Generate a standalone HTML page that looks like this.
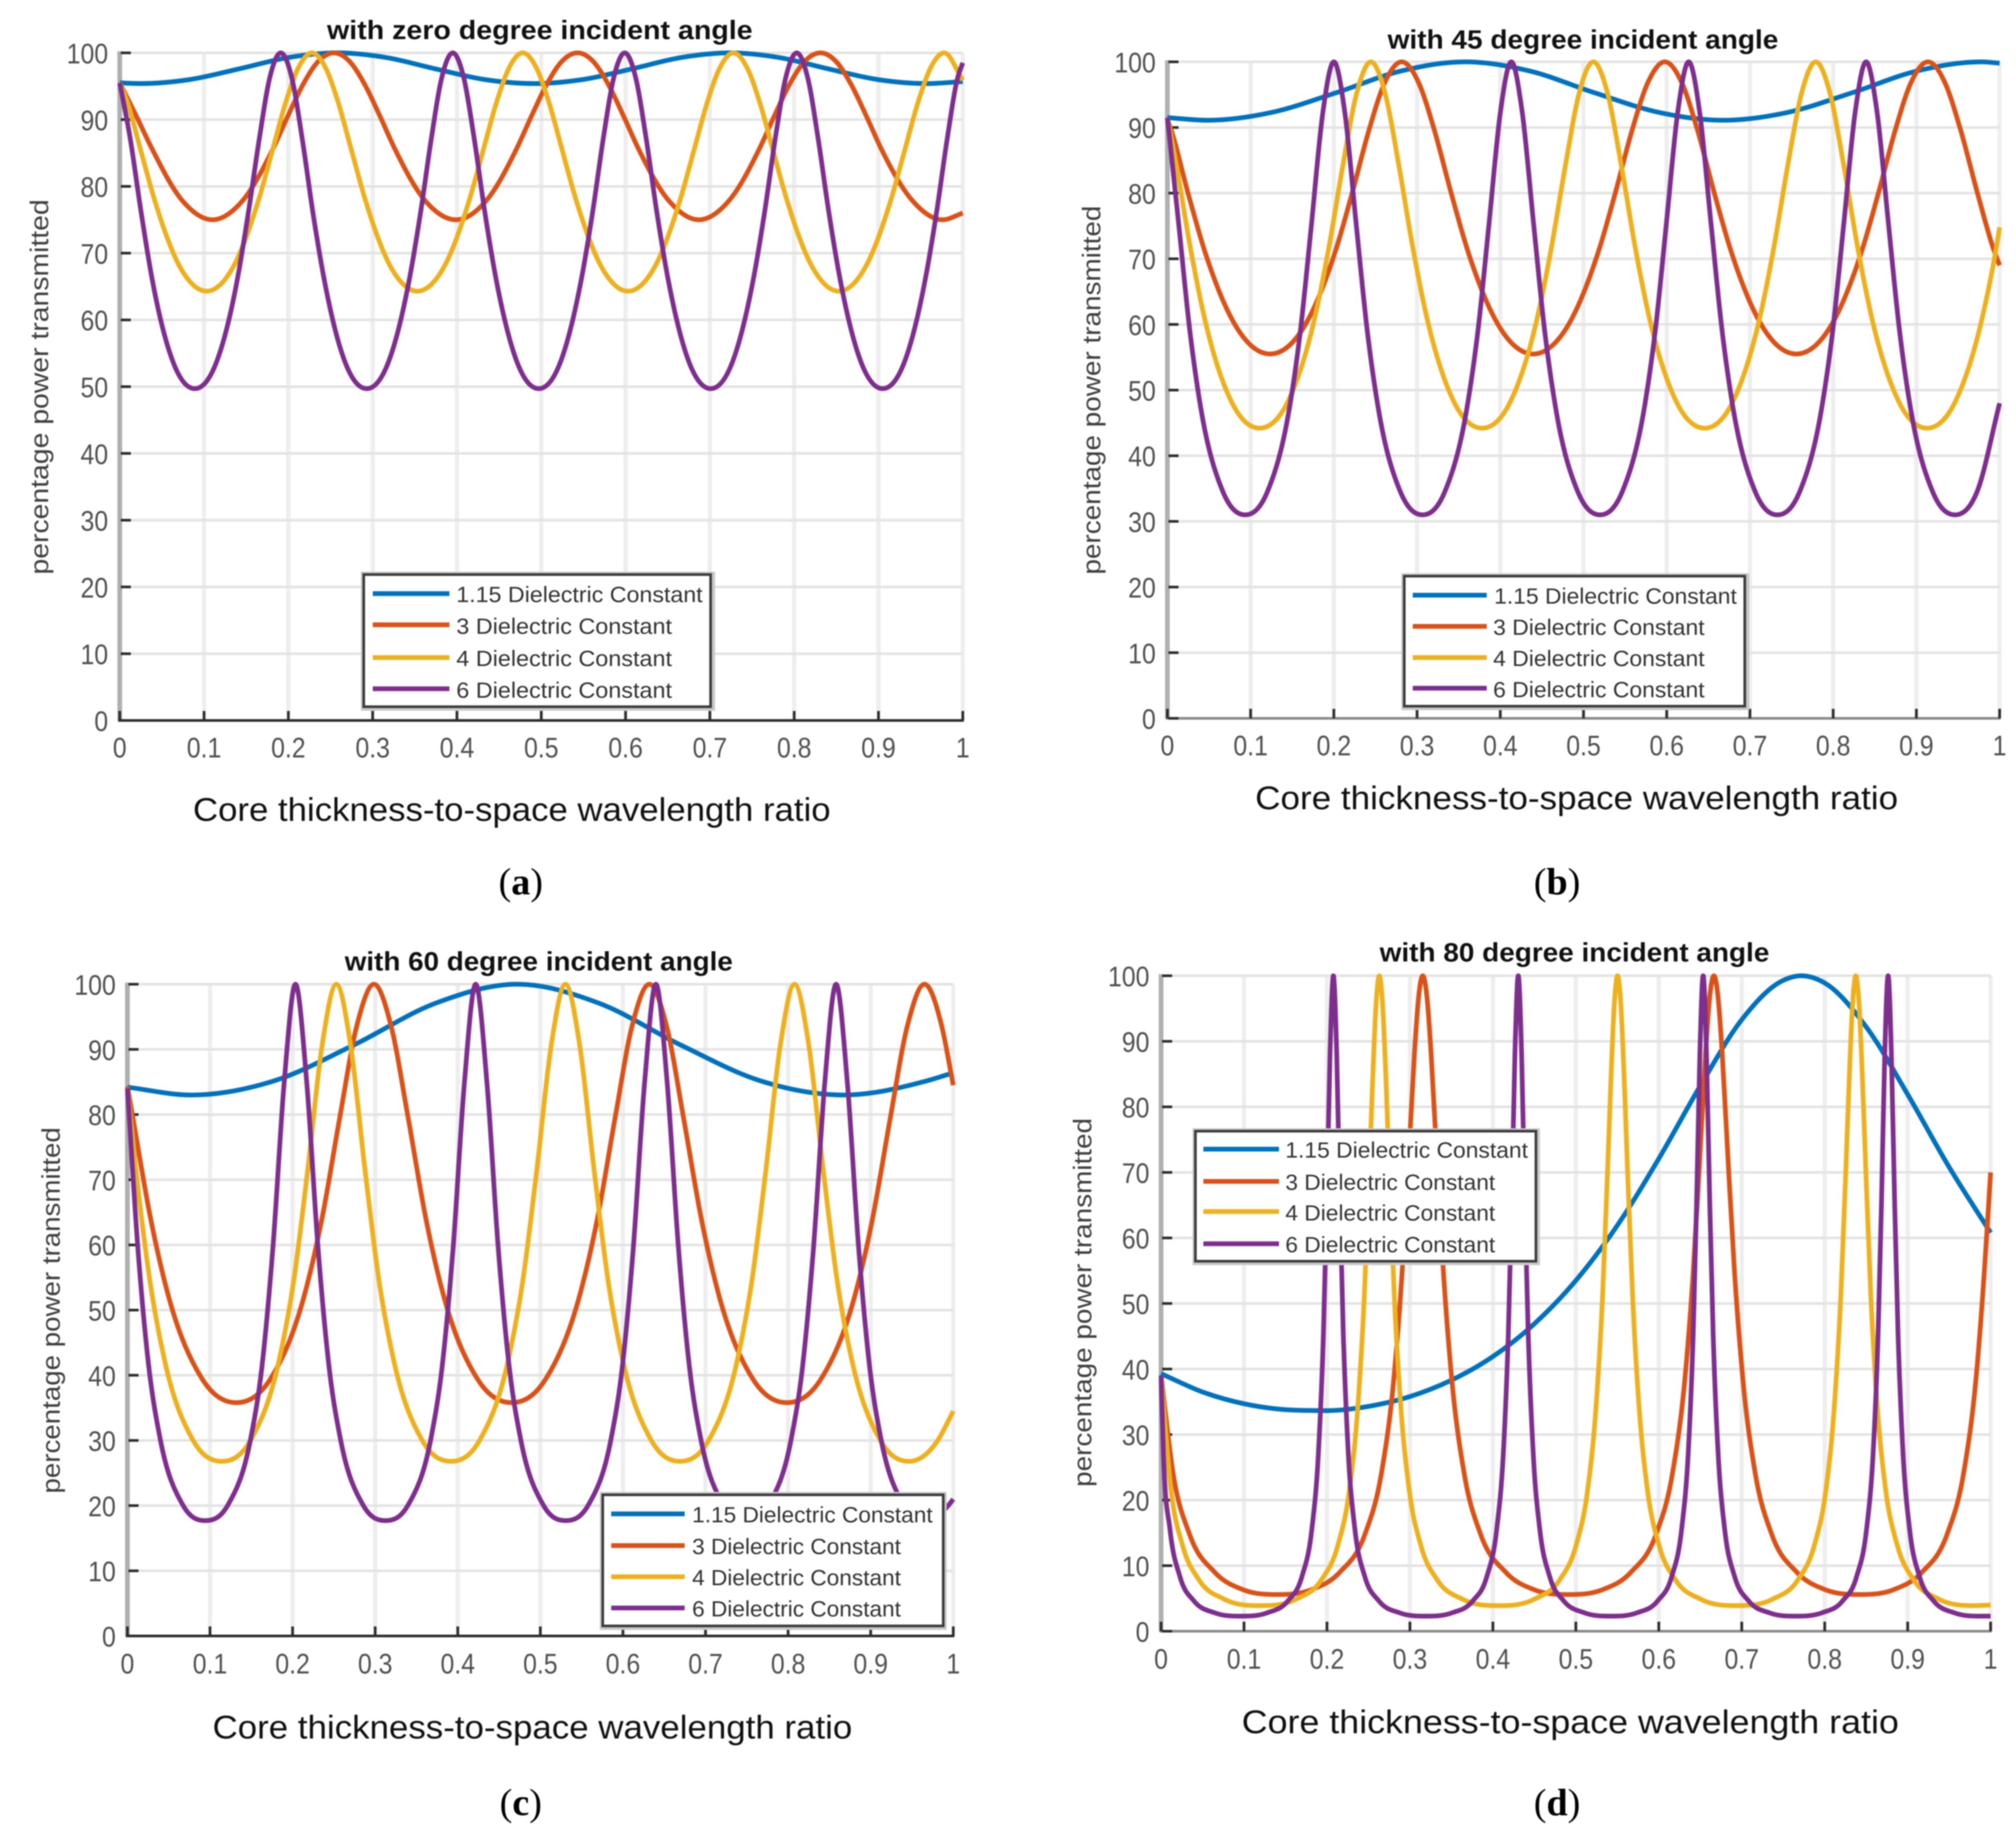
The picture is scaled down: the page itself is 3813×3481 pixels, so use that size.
<!DOCTYPE html>
<html lang="en">
<head>
<meta charset="utf-8">
<title>Power transmitted versus core thickness at four incident angles</title>
<style>
html,body{margin:0;padding:0;background:#fff;}
svg{display:block;filter:blur(1px);}
text{font-family:"Liberation Sans",sans-serif;}
.title{font-size:50px;font-weight:bold;fill:#111;text-anchor:middle;}
.ylab{font-size:48px;fill:#404040;text-anchor:middle;}
.xlab{font-size:62px;fill:#111;text-anchor:middle;}
.cap{font-family:"Liberation Serif",serif;font-size:72px;fill:#000;text-anchor:middle;}
.leg{font-size:42px;fill:#333;}
.tick{font-size:47px;fill:#505050;}
.lbox{fill:#fff;stroke:#3c3c3c;stroke-width:5;}
.lshadow{fill:none;stroke:#c8c8c8;stroke-width:11;}
</style>
</head>
<body>
<svg id="figure" xmlns="http://www.w3.org/2000/svg" width="3813" height="3481" viewBox="0 0 3813 3481">
<rect width="3813" height="3481" fill="#fff"/>

<g>
  <g id="marks-a"></g>
  <text class="title" x="1021" y="74" textLength="805" lengthAdjust="spacingAndGlyphs">with zero degree incident angle</text>
  <text class="ylab" transform="translate(91 732) rotate(-90)" textLength="710" lengthAdjust="spacingAndGlyphs">percentage power transmitted</text>
  <text class="xlab" x="968" y="1553" textLength="1206" lengthAdjust="spacingAndGlyphs">Core thickness-to-space wavelength ratio</text>
  <text class="cap" x="985" y="1692">(<tspan font-weight="bold">a</tspan>)</text>
  <g>
    <rect class="lshadow" x="688" y="1087" width="659" height="252"/>
    <rect class="lbox" x="688" y="1087" width="656" height="250"/>
    <line x1="705" x2="850" y1="1123" y2="1123" stroke="#0072BD" stroke-width="9"/>
    <text class="leg" x="863" y="1139" textLength="466" lengthAdjust="spacingAndGlyphs">1.15 Dielectric Constant</text>
    <line x1="705" x2="850" y1="1182" y2="1182" stroke="#D95319" stroke-width="9"/>
    <text class="leg" x="863" y="1199" textLength="408" lengthAdjust="spacingAndGlyphs">3 Dielectric Constant</text>
    <line x1="705" x2="850" y1="1244" y2="1244" stroke="#EDB120" stroke-width="9"/>
    <text class="leg" x="863" y="1260" textLength="408" lengthAdjust="spacingAndGlyphs">4 Dielectric Constant</text>
    <line x1="705" x2="850" y1="1303" y2="1303" stroke="#7E2F8E" stroke-width="9"/>
    <text class="leg" x="863" y="1320" textLength="408" lengthAdjust="spacingAndGlyphs">6 Dielectric Constant</text>
  </g>
</g>

<g>
  <g id="marks-b"></g>
  <text class="title" x="2994" y="92" textLength="739" lengthAdjust="spacingAndGlyphs">with 45 degree incident angle</text>
  <text class="ylab" transform="translate(2081 738) rotate(-90)" textLength="698" lengthAdjust="spacingAndGlyphs">percentage power transmitted</text>
  <text class="xlab" x="2982" y="1531" textLength="1216" lengthAdjust="spacingAndGlyphs">Core thickness-to-space wavelength ratio</text>
  <text class="cap" x="2945" y="1692">(<tspan font-weight="bold">b</tspan>)</text>
  <g>
    <rect class="lshadow" x="2656" y="1090" width="647" height="248"/>
    <rect class="lbox" x="2656" y="1090" width="644" height="246"/>
    <line x1="2672" x2="2812" y1="1126" y2="1126" stroke="#0072BD" stroke-width="9"/>
    <text class="leg" x="2826" y="1142" textLength="459" lengthAdjust="spacingAndGlyphs">1.15 Dielectric Constant</text>
    <line x1="2672" x2="2812" y1="1185" y2="1185" stroke="#D95319" stroke-width="9"/>
    <text class="leg" x="2824" y="1201" textLength="400" lengthAdjust="spacingAndGlyphs">3 Dielectric Constant</text>
    <line x1="2672" x2="2812" y1="1244" y2="1244" stroke="#EDB120" stroke-width="9"/>
    <text class="leg" x="2824" y="1260" textLength="400" lengthAdjust="spacingAndGlyphs">4 Dielectric Constant</text>
    <line x1="2672" x2="2812" y1="1302" y2="1302" stroke="#7E2F8E" stroke-width="9"/>
    <text class="leg" x="2824" y="1319" textLength="400" lengthAdjust="spacingAndGlyphs">6 Dielectric Constant</text>
  </g>
</g>

<g>
  <g id="marks-c"></g>
  <text class="title" x="1019" y="1836" textLength="734" lengthAdjust="spacingAndGlyphs">with 60 degree incident angle</text>
  <text class="ylab" transform="translate(113 2479) rotate(-90)" textLength="693" lengthAdjust="spacingAndGlyphs">percentage power transmitted</text>
  <text class="xlab" x="1007" y="3289" textLength="1210" lengthAdjust="spacingAndGlyphs">Core thickness-to-space wavelength ratio</text>
  <text class="cap" x="985" y="3434">(<tspan font-weight="bold">c</tspan>)</text>
  <g>
    <rect class="lshadow" x="1140" y="2828" width="645" height="250"/>
    <rect class="lbox" x="1140" y="2828" width="644" height="248"/>
    <line x1="1156" x2="1295" y1="2864" y2="2864" stroke="#0072BD" stroke-width="9"/>
    <text class="leg" x="1309" y="2880" textLength="455" lengthAdjust="spacingAndGlyphs">1.15 Dielectric Constant</text>
    <line x1="1156" x2="1295" y1="2924" y2="2924" stroke="#D95319" stroke-width="9"/>
    <text class="leg" x="1309" y="2940" textLength="395" lengthAdjust="spacingAndGlyphs">3 Dielectric Constant</text>
    <line x1="1156" x2="1295" y1="2983" y2="2983" stroke="#EDB120" stroke-width="9"/>
    <text class="leg" x="1309" y="2999" textLength="395" lengthAdjust="spacingAndGlyphs">4 Dielectric Constant</text>
    <line x1="1156" x2="1295" y1="3042" y2="3042" stroke="#7E2F8E" stroke-width="9"/>
    <text class="leg" x="1309" y="3058" textLength="395" lengthAdjust="spacingAndGlyphs">6 Dielectric Constant</text>
  </g>
</g>

<g>
  <g id="marks-d"></g>
  <text class="title" x="2978" y="1819" textLength="737" lengthAdjust="spacingAndGlyphs">with 80 degree incident angle</text>
  <text class="ylab" transform="translate(2064 2464) rotate(-90)" textLength="698" lengthAdjust="spacingAndGlyphs">percentage power transmitted</text>
  <text class="xlab" x="2970" y="3279" textLength="1243" lengthAdjust="spacingAndGlyphs">Core thickness-to-space wavelength ratio</text>
  <text class="cap" x="2945" y="3434">(<tspan font-weight="bold">d</tspan>)</text>
  <g>
    <rect class="lshadow" x="2261" y="2140" width="646" height="248"/>
    <rect class="lbox" x="2261" y="2140" width="644" height="246"/>
    <line x1="2276" x2="2419" y1="2174" y2="2174" stroke="#0072BD" stroke-width="9"/>
    <text class="leg" x="2431" y="2190" textLength="459" lengthAdjust="spacingAndGlyphs">1.15 Dielectric Constant</text>
    <line x1="2276" x2="2419" y1="2235" y2="2235" stroke="#D95319" stroke-width="9"/>
    <text class="leg" x="2431" y="2251" textLength="397" lengthAdjust="spacingAndGlyphs">3 Dielectric Constant</text>
    <line x1="2276" x2="2419" y1="2292" y2="2292" stroke="#EDB120" stroke-width="9"/>
    <text class="leg" x="2431" y="2309" textLength="397" lengthAdjust="spacingAndGlyphs">4 Dielectric Constant</text>
    <line x1="2276" x2="2419" y1="2353" y2="2353" stroke="#7E2F8E" stroke-width="9"/>
    <text class="leg" x="2431" y="2369" textLength="397" lengthAdjust="spacingAndGlyphs">6 Dielectric Constant</text>
  </g>
</g>
</svg>

<script>
// ---- shared tick values ----
const xTicks = [0,0.1,0.2,0.3,0.4,0.5,0.6,0.7,0.8,0.9,1];
const xTickLabels = ['0','0.1','0.2','0.3','0.4','0.5','0.6','0.7','0.8','0.9','1'];
const yTicks = [0,10,20,30,40,50,60,70,80,90,100];
const yTickLabels = ['0','10','20','30','40','50','60','70','80','90','100'];

// ---- panel a: zero degree ----
const aBlueX = [0,.025,.083,.1415,.2,.258,.316,.3745,.433,.491,.549,.6075,.666,.724,.782,.8405,.899,.957,1];
const aBlueY = [95.5,95.4,96,97.6,99.3,100,99.3,97.6,96,95.4,96,97.6,99.3,100,99.3,97.6,96,95.4,95.7];
const aOrangeX = [0,.019,.038,.074,.11,
 .146,.182,.2,.218,.236,.254,
 .272,.29,.308,.326,.362,.399,
 .435,.471,.489,.507,.525,.543,
 .561,.579,.597,.615,.651,.687,
 .723,.759,.777,.795,.813,.831,
 .849,.867,.885,.903,.94,.976,
 1];
const aOrangeY = [95.5,90.7,85.7,77.9,75,
 77.9,85.7,90.7,95.4,98.8,100,
 98.8,95.4,90.7,85.7,77.9,75,
 77.9,85.7,90.7,95.4,98.8,100,
 98.8,95.4,90.7,85.7,77.9,75,
 77.9,85.7,90.7,95.4,98.8,100,
 98.8,95.4,90.7,85.7,77.9,75,
 76];
const aYellowX = [0,.0093,.0249,.0405,.072,.103,
 .134,.1655,.1811,.1967,.2124,.228,
 .2436,.2593,.2749,.2905,.322,.353,
 .384,.4155,.4311,.4467,.4624,.478,
 .4936,.5093,.5249,.5405,.572,.603,
 .634,.6655,.6811,.6967,.7124,.728,
 .7436,.7593,.7749,.7905,.822,.853,
 .884,.9155,.9311,.9467,.9624,.978,
 1];
const aYellowY = [95.5,92.5,85.4,78.3,67.8,64.3,
 67.8,78.3,85.4,92.5,97.9,100,
 97.9,92.5,85.4,78.3,67.8,64.3,
 67.8,78.3,85.4,92.5,97.9,100,
 97.9,92.5,85.4,78.3,67.8,64.3,
 67.8,78.3,85.4,92.5,97.9,100,
 97.9,92.5,85.4,78.3,67.8,64.3,
 67.8,78.3,85.4,92.5,97.9,100,
 95.9];
const aPurpleX = [0,.0125,.0253,.038,.0635,.089,
 .1145,.14,.1527,.1655,.178,.191,
 .204,.2165,.229,.242,.2675,.293,
 .3185,.344,.357,.3695,.382,.395,
 .408,.4205,.433,.446,.4715,.497,
 .5225,.548,.561,.5735,.586,.599,
 .612,.6245,.637,.65,.6755,.701,
 .7265,.752,.765,.7775,.79,.803,
 .816,.8285,.841,.854,.8795,.905,
 .9305,.956,.969,.9815,.994,1];
const aPurpleY = [95.5,87.1,76.2,66.4,53.6,49.7,
 53.6,66.4,76.2,87.1,96.3,100,
 96.3,87.1,76.2,66.4,53.6,49.7,
 53.6,66.4,76.2,87.1,96.3,100,
 96.3,87.1,76.2,66.4,53.6,49.7,
 53.6,66.4,76.2,87.1,96.3,100,
 96.3,87.1,76.2,66.4,53.6,49.7,
 53.6,66.4,76.2,87.1,96.3,100,
 96.3,87.1,76.2,66.4,53.6,49.7,
 53.6,66.4,76.2,87.1,96.3,98.5];

// ---- panel b: 45 degree ----
const bBlueX = [0,.048,.1255,.203,.2805,.358,.4355,.513,.5905,.668,.7455,.823,.9005,.978,1];
const bBlueY = [91.5,91.1,92.3,95.3,98.6,100,98.6,95.3,92.3,91.1,92.3,95.3,98.6,100,99.8];
const bOrangeX = [0,.0048,.0246,.0443,.0839,.1234,
 .163,.2025,.2222,.242,.2617,.2815,
 .3013,.321,.3408,.3605,.4001,.4396,
 .4792,.5187,.5384,.5582,.5779,.5977,
 .6175,.6372,.657,.6767,.7163,.7558,
 .7954,.8349,.8546,.8744,.8941,.9139,
 .9337,.9534,.9732,.9929,1];
const bOrangeY = [91.2,89.5,80.1,71.4,59.4,55.5,
 59.4,71.4,80.1,89.5,97,100,
 97,89.5,80.1,71.4,59.4,55.5,
 59.4,71.4,80.1,89.5,97,100,
 97,89.5,80.1,71.4,59.4,55.5,
 59.4,71.4,80.1,89.5,97,100,
 97,89.5,80.1,71.4,69];
const bYellowX = [0,.0106,.0273,.044,.0775,.1108,
 .1442,.1776,.1943,.2111,.2278,.2445,
 .2612,.2779,.2946,.3113,.3448,.3782,
 .4116,.445,.4617,.4785,.4951,.5118,
 .5285,.5452,.5619,.5786,.6121,.6455,
 .6789,.7123,.729,.7457,.7624,.7791,
 .7958,.8125,.8292,.8459,.8794,.9128,
 .9462,.9796,.9963,1];
const bYellowY = [91.5,84.4,71.9,61.3,48.1,44.2,
 48.1,61.3,71.9,84.4,95.4,100,
 95.4,84.4,71.9,61.3,48.1,44.2,
 48.1,61.3,71.9,84.4,95.4,100,
 95.4,84.4,71.9,61.3,48.1,44.2,
 48.1,61.3,71.9,84.4,95.4,100,
 95.4,84.4,71.9,61.3,48.1,44.2,
 48.1,61.3,71.9,74.8];
const bPurpleX = [0,.0134,.0268,.0401,.0668,.0934,
 .1201,.1467,.16,.1733,.1867,.2,
 .2133,.2267,.24,.2533,.28,.3066,
 .3333,.36,.3733,.3866,.4,.4132,
 .4265,.4399,.4532,.4665,.4932,.5198,
 .5465,.5731,.5864,.5997,.6131,.6264,
 .6397,.6531,.6664,.6797,.7064,.733,
 .7597,.7863,.7996,.8129,.8263,.8396,
 .8529,.8663,.8796,.8929,.9196,.9462,
 .9729,1];
const bPurpleY = [91.5,75.5,59.2,47.3,34.5,31,
 34.5,47.3,59.2,75.5,92.2,100,
 92.2,75.5,59.2,47.3,34.5,31,
 34.5,47.3,59.2,75.5,92.2,100,
 92.2,75.5,59.2,47.3,34.5,31,
 34.5,47.3,59.2,75.5,92.2,100,
 92.2,75.5,59.2,47.3,34.5,31,
 34.5,47.3,59.2,75.5,92.2,100,
 92.2,75.5,59.2,47.3,34.5,31,
 34.5,48];

// ---- panel c: 60 degree ----
const cBlueX = [0,.077,.1758,.2745,.3733,.472,.5708,.6695,.7683,.867,.9658,1];
const cBlueY = [84.2,83,85.1,90.7,97.1,100,97.1,90.7,85.1,83,85.1,86.4];
const cOrangeX = [0,.0069,.0277,.0485,.0902,.1318,
 .1735,.2152,.236,.2568,.2777,.2985,
 .3193,.3402,.361,.3818,.4235,.4652,
 .5069,.5486,.5695,.5903,.6111,.632,
 .6528,.6737,.6945,.7153,.757,.7985,
 .8402,.8819,.9027,.9235,.9444,.9652,
 .986,1];
const cOrangeY = [84.3,79.3,64.3,52.7,39.5,35.8,
 39.5,52.7,64.3,79.3,93.6,100,
 93.6,79.3,64.3,52.7,39.5,35.8,
 39.5,52.7,64.3,79.3,93.6,100,
 93.6,79.3,64.3,52.7,39.5,35.8,
 39.5,52.7,64.3,79.3,93.6,100,
 93.6,84.5];
const cYellowX = [0,.0103,.0276,.045,.0796,.1143,
 .149,.1837,.201,.2183,.2357,.253,
 .2703,.2877,.305,.3224,.357,.3917,
 .4264,.4611,.4784,.4957,.5131,.5304,
 .5477,.5651,.5824,.5998,.6344,.6691,
 .7038,.7385,.7558,.7731,.7905,.8078,
 .8251,.8425,.8598,.8772,.9118,.9465,
 .9812,1];
const cYellowY = [84,71.5,54.2,42.3,30,26.8,
 30,42.3,54.2,71.5,90.6,100,
 90.6,71.5,54.2,42.3,30,26.8,
 30,42.3,54.2,71.5,90.6,100,
 90.6,71.5,54.2,42.3,30,26.8,
 30,42.3,54.2,71.5,90.6,100,
 90.6,71.5,54.2,42.3,30,26.8,
 30,34.5];
const cPurpleX = [0,.0126,.0262,.0399,.0671,.0944,
 .1217,.149,.1626,.1762,.1899,.2035,
 .2171,.2308,.2444,.2581,.2853,.3126,
 .3399,.3672,.3808,.3944,.4081,.4217,
 .4353,.449,.4626,.4763,.5035,.5308,
 .5581,.5854,.599,.6126,.6263,.6399,
 .6535,.6672,.6808,.6945,.7217,.749,
 .7763,.8036,.8172,.8308,.8445,.8581,
 .8717,.8854,.899,.9127,.9399,.9672,
 .9945,1];
const cPurpleY = [84,59.6,41,30.1,20.1,17.7,
 20.1,30.1,41,59.6,85,100,
 85,59.6,41,30.1,20.1,17.7,
 20.1,30.1,41,59.6,85,100,
 85,59.6,41,30.1,20.1,17.7,
 20.1,30.1,41,59.6,85,100,
 85,59.6,41,30.1,20.1,17.7,
 20.1,30.1,41,59.6,85,100,
 85,59.6,41,30.1,20.1,17.7,
 20.1,21];

// ---- panel d: 80 degree ----
const dBlueX = [0,.05,.1,.15,.2,.25,.3,.35,.4,.45,.5,.55,.6,.65,.7,.75,.772,.8,.85,.9,.95,1];
const dBlueY = [39.3,36.5,34.7,33.8,33.65,34.3,35.8,38.3,41.9,46.9,53.5,61.9,72.1,83.2,93.3,99.3,100,98.9,92.2,81.9,70.8,60.8];
const dOrangeX = [0,.0146,.0346,.0646,.0996,.14,
 .1805,.2155,.2455,.2655,.2805,.2905,.2985,.3055,.3105,.3155,
 .3205,.3255,.3325,.3405,.3505,.3655,.3855,.4155,.4505,.491,
 .5314,.5664,.5964,.6164,.6314,.6414,.6494,.6564,.6614,.6664,
 .6714,.6764,.6834,.6914,.7014,.7164,.7364,.7664,.8014,.8419,
 .8823,.9173,.9473,.9673,.9823,.9923,1];
const dOrangeY = [39,24,14.7,9,6.3,5.6,
 6.3,9,14.7,24,38.4,54.6,72.1,88.2,96.8,100,
 96.8,88.2,72.1,54.6,38.4,24,14.7,9,6.3,5.6,
 6.3,9,14.7,24,38.4,54.6,72.1,88.2,96.8,100,
 96.8,88.2,72.1,54.6,38.4,24,14.7,9,6.3,5.6,
 6.3,9,14.7,24,38.4,54.6,70];
const dYellowX = [0,.0119,.0259,.0459,.0759,.1195,
 .1631,.1931,.2131,.2271,.2371,.2451,.2511,.2551,.2591,.2631,
 .2671,.2711,.2751,.2811,.2891,.2991,.3131,.3331,.3631,.4067,
 .4503,.4803,.5003,.5143,.5243,.5323,.5383,.5423,.5463,.5503,
 .5543,.5583,.5623,.5683,.5763,.5863,.6003,.6203,.6503,.6939,
 .7375,.7675,.7875,.8015,.8115,.8195,.8255,.8295,.8335,.8375,
 .8415,.8455,.8495,.8555,.8635,.8735,.8875,.9075,.9375,.9811,
 1];
const dYellowY = [39,21.6,13.1,7.8,4.9,3.9,
 4.9,7.8,13.1,21.6,34.1,51.4,70.4,84.2,95.5,100,
 95.5,84.2,70.4,51.4,34.1,21.6,13.1,7.8,4.9,3.9,
 4.9,7.8,13.1,21.6,34.1,51.4,70.4,84.2,95.5,100,
 95.5,84.2,70.4,51.4,34.1,21.6,13.1,7.8,4.9,3.9,
 4.9,7.8,13.1,21.6,34.1,51.4,70.4,84.2,95.5,100,
 95.5,84.2,70.4,51.4,34.1,21.6,13.1,7.8,4.9,3.9,
 4];
const dPurpleX = [0,.0028,.0108,.0228,.0398,.0648,.0963,
 .1277,.1527,.1697,.1817,.1897,.1957,.1997,.2037,.2077,
 .2117,.2157,.2197,.2257,.2337,.2457,.2627,.2877,.3192,
 .3506,.3756,.3926,.4046,.4126,.4186,.4226,.4266,.4306,
 .4346,.4386,.4426,.4486,.4566,.4686,.4856,.5106,.5421,
 .5735,.5985,.6155,.6275,.6355,.6415,.6455,.6495,.6535,
 .6575,.6615,.6655,.6715,.6795,.6915,.7085,.7335,.765,
 .7964,.8214,.8384,.8504,.8584,.8644,.8684,.8724,.8764,
 .8804,.8844,.8884,.8944,.9024,.9144,.9314,.9564,.9879,
 1];
const dPurpleY = [39,27.2,15.5,8.3,4.6,2.8,2.3,
 2.8,4.6,8.3,15.5,27.2,45.4,65,88.1,100,
 88.1,65,45.4,27.2,15.5,8.3,4.6,2.8,2.3,
 2.8,4.6,8.3,15.5,27.2,45.4,65,88.1,100,
 88.1,65,45.4,27.2,15.5,8.3,4.6,2.8,2.3,
 2.8,4.6,8.3,15.5,27.2,45.4,65,88.1,100,
 88.1,65,45.4,27.2,15.5,8.3,4.6,2.8,2.3,
 2.8,4.6,8.3,15.5,27.2,45.4,65,88.1,100,
 88.1,65,45.4,27.2,15.5,8.3,4.6,2.8,2.3,
 2.3];

const seriesColors = ['#0072BD','#D95319','#EDB120','#7E2F8E'];
const seriesNames = ['line-1-15','line-3','line-4','line-6'];

const panels = [
  {id:'a',left:226.5,right:1821,top:100,bottom:1363,tickY:1433,axisColor:'#2c2c2c',
   xs:[aBlueX,aOrangeX,aYellowX,aPurpleX],ys:[aBlueY,aOrangeY,aYellowY,aPurpleY]},
  {id:'b',left:2208,right:3782,top:117,bottom:1359,tickY:1429,axisColor:'#8a8a8a',
   xs:[bBlueX,bOrangeX,bYellowX,bPurpleX],ys:[bBlueY,bOrangeY,bYellowY,bPurpleY]},
  {id:'c',left:241,right:1803,top:1862,bottom:3095,tickY:3166,axisColor:'#2c2c2c',
   xs:[cBlueX,cOrangeX,cYellowX,cPurpleX],ys:[cBlueY,cOrangeY,cYellowY,cPurpleY]},
  {id:'d',left:2196,right:3765,top:1846,bottom:3086,tickY:3157,axisColor:'#8a8a8a',
   xs:[dBlueX,dOrangeX,dYellowX,dPurpleX],ys:[dBlueY,dOrangeY,dYellowY,dPurpleY]}
];

const NS = 'http://www.w3.org/2000/svg';

function smoothPath(px,py){
  const n = px.length;
  const m = new Array(n).fill(0);
  for(let i=1;i<n-1;i++){
    const h0=px[i]-px[i-1],h1=px[i+1]-px[i];
    const s0=(py[i]-py[i-1])/h0,s1=(py[i+1]-py[i])/h1;
    if(s0*s1<=0){m[i]=0;continue;}
    const p=(s0*h1+s1*h0)/(h0+h1);
    const limit=3*Math.min(Math.abs(s0),Math.abs(s1));
    m[i]=Math.sign(s0)*Math.min(Math.abs(p),limit);
  }
  m[0]=(py[1]-py[0])/(px[1]-px[0]);
  m[n-1]=(py[n-1]-py[n-2])/(px[n-1]-px[n-2]);
  let d='M'+px[0].toFixed(1)+' '+py[0].toFixed(1);
  for(let i=0;i<n-1;i++){
    const h=(px[i+1]-px[i])/3;
    d+='C'+(px[i]+h).toFixed(1)+' '+(py[i]+m[i]*h).toFixed(1)+' '+
      (px[i+1]-h).toFixed(1)+' '+(py[i+1]-m[i+1]*h).toFixed(1)+' '+
      px[i+1].toFixed(1)+' '+py[i+1].toFixed(1);
  }
  return d;
}

function addLine(parent,x1,y1,x2,y2,color,width){
  const el=document.createElementNS(NS,'line');
  el.setAttribute('x1',x1);
  el.setAttribute('y1',y1);
  el.setAttribute('x2',x2);
  el.setAttribute('y2',y2);
  el.setAttribute('stroke',color);
  el.setAttribute('stroke-width',width);
  parent.appendChild(el);
  return el;
}

function addTick(parent,x,y,anchor,label){
  const el=document.createElementNS(NS,'text');
  el.setAttribute('class','tick');
  el.setAttribute('transform','translate('+x+' '+y+') scale(1 1.14)');
  el.setAttribute('text-anchor',anchor);
  el.textContent=label;
  parent.appendChild(el);
  return el;
}

panels.forEach(function(p){
  const root=document.getElementById('marks-'+p.id);
  const xScale=function(v){return p.left+(p.right-p.left)*v;};
  const yScale=function(v){return p.bottom-(p.bottom-p.top)*v/100;};

  xTicks.forEach(function(t,i){
    const x=xScale(t);
    if(i>0){
      const g=addLine(root,x,p.top,x,p.bottom,'#eeeeee',8);
      
      
    }
  });
  yTicks.forEach(function(t,i){
    const y=yScale(t);
    if(i>0){
      const g=addLine(root,p.left,y,p.right,y,'#e4e4e4',5);
      
      
    }
  });

  const yAxis=addLine(root,p.left,p.top-3,p.left,p.bottom,'#b0b0b0',9);
  
  
  const xAxis=addLine(root,p.left-3,p.bottom,p.right+2,p.bottom,p.axisColor,5);
  
  

  xTicks.forEach(function(t,i){
    const x=xScale(t);
    const tk=addLine(root,x,p.bottom,x,p.bottom-18,'#2c2c2c',5);
    
    
    const lb=addTick(root,x,p.tickY,'middle',xTickLabels[i]);
    
    
  });
  yTicks.forEach(function(t,i){
    const y=yScale(t);
    const tk=addLine(root,p.left+2,y,p.left+21,y,'#2c2c2c',5);
    
    
    const lb=addTick(root,p.left-22,y+20,'end',yTickLabels[i]);
    
    
  });

  p.xs.forEach(function(xv,k){
    const yv=p.ys[k];
    const path=document.createElementNS(NS,'path');
    path.setAttribute('d',smoothPath(xv.map(xScale),yv.map(yScale)));
    path.setAttribute('fill','none');
    path.setAttribute('stroke',seriesColors[k]);
    path.setAttribute('stroke-width','9');
    path.setAttribute('stroke-linejoin','round');
    
    
    root.appendChild(path);
  });
});
</script>
</body>
</html>
